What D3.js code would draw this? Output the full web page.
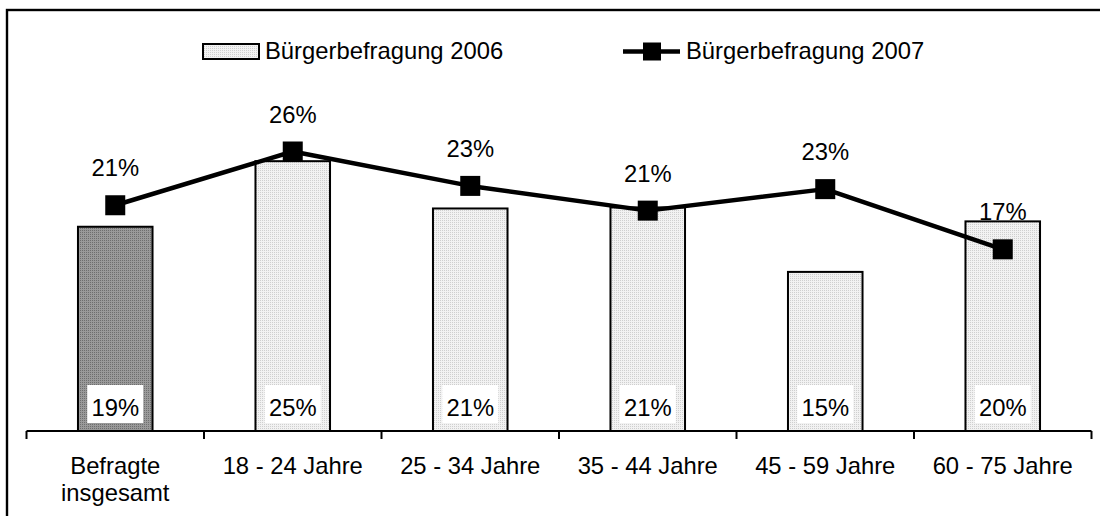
<!DOCTYPE html>
<html>
<head>
<meta charset="utf-8">
<script src="https://cdn.jsdelivr.net/npm/d3@7"></script>
<style>
  html, body { margin: 0; padding: 0; background: #fff; }
  svg { display: block; font-family: Arial, "Liberation Sans", sans-serif; }
</style>
</head>
<body>
<svg id="chart" width="1100" height="516"></svg>
<script>
// ---- data ----
const categories = [["Befragte", "insgesamt"], ["18 - 24 Jahre"], ["25 - 34 Jahre"], ["35 - 44 Jahre"], ["45 - 59 Jahre"], ["60 - 75 Jahre"]];
const values2006 = [19, 25.1, 20.7, 20.8, 14.8, 19.5];
const values2007 = [21, 26, 22.8, 20.5, 22.5, 16.9];
const seriesNames = ["Bürgerbefragung 2006", "Bürgerbefragung 2007"];

// ---- layout ----
const svg = d3.select("#chart");
const baseY = 431;
const fontSize = 23.8;

const x = d3.scaleBand()
  .domain(d3.range(categories.length))
  .range([26.5, 1091.5])
  .padding(0);
const y = d3.scaleLinear().domain([0, 30]).range([baseY, baseY - 30 * 10.75]);
const pct = v => Math.round(v) + "%";

// outer frame
svg.append("rect")
  .attr("x", 7).attr("y", 10).attr("width", 1110).attr("height", 530)
  .attr("fill", "none").attr("stroke", "#000").attr("stroke-width", 2.4);

// patterns
const defs = svg.append("defs");
function dotPattern(id, bg, dot) {
  const p = defs.append("pattern").attr("id", id).attr("patternUnits", "userSpaceOnUse")
    .attr("width", 2).attr("height", 2);
  p.append("rect").attr("width", 2).attr("height", 2).attr("fill", bg);
  p.append("rect").attr("width", 1).attr("height", 1).attr("fill", dot);
}
dotPattern("lightDots", "#f2f2f2", "#cfcfcf");
dotPattern("darkDots", "#9a9a9a", "#6e6e6e");

const barW = x.bandwidth() * 0.42;

// bars
svg.append("g").selectAll("rect")
  .data(values2006)
  .join("rect")
  .attr("x", (d, i) => x(i) + x.bandwidth() / 2 - barW / 2)
  .attr("y", d => y(d))
  .attr("width", barW)
  .attr("height", d => baseY - y(d))
  .attr("fill", (d, i) => i === 0 ? "url(#darkDots)" : "url(#lightDots)")
  .attr("stroke", "#000").attr("stroke-width", 2);

// bar value boxes
const boxW = 56, boxH = 38;
const barLbl = svg.append("g").selectAll("g").data(values2006).join("g");
barLbl.append("rect")
  .attr("x", (d, i) => x(i) + x.bandwidth() / 2 - boxW / 2)
  .attr("y", baseY - 8 - boxH)
  .attr("width", boxW).attr("height", boxH)
  .attr("fill", "#fff");
barLbl.append("text")
  .attr("x", (d, i) => x(i) + x.bandwidth() / 2)
  .attr("y", baseY - 15)
  .attr("text-anchor", "middle")
  .attr("font-size", fontSize)
  .attr("fill", "#000")
  .text(d => pct(d));

// axis
const axis = svg.append("g");
axis.append("line")
  .attr("x1", x.range()[0]).attr("x2", x.range()[1])
  .attr("y1", baseY).attr("y2", baseY)
  .attr("stroke", "#000").attr("stroke-width", 2);
const tickPos = d3.range(categories.length + 1).map(i => i < categories.length ? x(i) : x.range()[1]);
axis.selectAll("line.tick").data(tickPos).join("line")
  .attr("class", "tick")
  .attr("x1", d => d).attr("x2", d => d)
  .attr("y1", baseY).attr("y2", baseY + 8)
  .attr("stroke", "#000").attr("stroke-width", 2);

// category labels
const catText = svg.append("g").selectAll("text").data(categories).join("text")
  .attr("x", (d, i) => x(i) + x.bandwidth() / 2)
  .attr("y", 474)
  .attr("text-anchor", "middle")
  .attr("font-size", fontSize)
  .attr("fill", "#000");
catText.selectAll("tspan").data(d => d).join("tspan")
  .attr("x", function () { return d3.select(this.parentNode).attr("x"); })
  .attr("dy", (d, j) => j === 0 ? 0 : 27)
  .text(d => d);

// line
const line = d3.line()
  .x((d, i) => x(i) + x.bandwidth() / 2)
  .y(d => y(d));
svg.append("path")
  .datum(values2007)
  .attr("d", line)
  .attr("fill", "none")
  .attr("stroke", "#000")
  .attr("stroke-width", 4.5)
  .attr("stroke-linejoin", "round");

const mk = 20;
svg.append("g").selectAll("rect").data(values2007).join("rect")
  .attr("x", (d, i) => x(i) + x.bandwidth() / 2 - mk / 2)
  .attr("y", d => y(d) - mk / 2)
  .attr("width", mk).attr("height", mk)
  .attr("fill", "#000");

svg.append("g").selectAll("text").data(values2007).join("text")
  .attr("x", (d, i) => x(i) + x.bandwidth() / 2)
  .attr("y", d => y(d) - 29)
  .attr("text-anchor", "middle")
  .attr("font-size", fontSize)
  .attr("fill", "#000")
  .text(d => pct(d));

// legend
const lg = svg.append("g");
lg.append("rect")
  .attr("x", 203).attr("y", 44).attr("width", 56).attr("height", 15)
  .attr("fill", "url(#lightDots)").attr("stroke", "#000").attr("stroke-width", 2);
lg.append("text")
  .attr("x", 265).attr("y", 59)
  .attr("font-size", fontSize).attr("fill", "#000")
  .text(seriesNames[0]);
lg.append("line")
  .attr("x1", 623).attr("x2", 680).attr("y1", 51.5).attr("y2", 51.5)
  .attr("stroke", "#000").attr("stroke-width", 4.5);
lg.append("rect")
  .attr("x", 652 - 9).attr("y", 51.5 - 9).attr("width", 18).attr("height", 18)
  .attr("fill", "#000");
lg.append("text")
  .attr("x", 686).attr("y", 59)
  .attr("font-size", fontSize).attr("fill", "#000")
  .text(seriesNames[1]);
</script>
</body>
</html>
